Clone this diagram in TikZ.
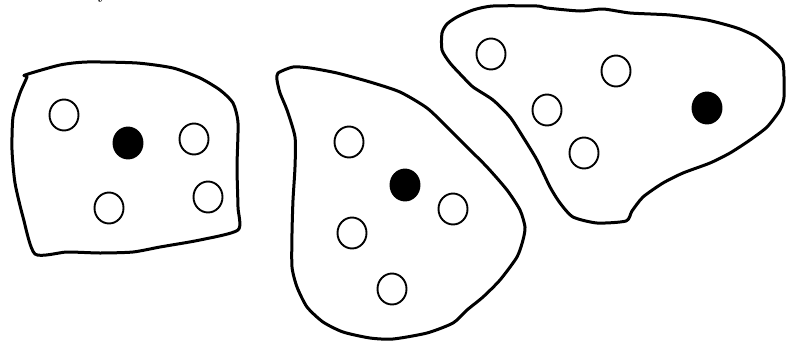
\documentclass[tikz,border=0pt]{standalone}
\usetikzlibrary{shapes.geometric}
\begin{document}
\begin{tikzpicture}[x=1pt,y=-1pt,
  blob/.style={line width=3pt,line join=round},
  opencirc/.style={ellipse,draw,line width=1.9pt,minimum width=29pt,minimum height=31pt,inner sep=0pt,fill=white},
  fullcirc/.style={ellipse,draw,line width=1.9pt,minimum width=29pt,minimum height=31pt,inner sep=0pt,fill=black}]
\useasboundingbox (0,0) rectangle (786,343);
\begin{scope}
\clip (0,0) rectangle (786,343);
\node[anchor=base west,inner sep=0pt,font=\Large\bfseries] (frag) at (98,-1) {y};
\end{scope}
% left blob
\draw[blob] plot[smooth cycle,tension=0.4] coordinates {
(25,75) (60,65) (87,62) (137,63) (173,68) (200,78) (220,90) (233,103) (238,123) (237,167) (238,207) (238,230)
(200,240) (160,247) (133,252) (100,253) (67,252) (35,254)
(23,217) (15,183) (12,150) (13,117) (20,93) (27,77)};
% middle blob
\draw[blob] plot[smooth cycle,tension=0.4] coordinates {
(278,73) (293,67) (310,68) (337,73) (370,82) (400,92) (427,108) (447,127) (467,147) (487,167) (507,190) (520,210) (525,227) (523,240) (517,257) (500,280) (483,297) (467,310) (453,323) (427,333) (393,339) (370,338) (343,332) (323,322) (307,307) (297,287) (292,267) (292,233) (293,200) (295,167) (295,137) (287,110) (280,93) (277,80)};
% right blob
\draw[blob] plot[smooth cycle,tension=0.4] coordinates {
(442,33) (447,24) (457,17) (473,10) (493,6) (537,6) (547,8) (580,11) (603,9) (630,13) (670,15) (707,20) (737,28) (757,37) (773,50) (783,63) (784,97) (780,110) (767,127) (750,140) (730,153) (710,163) (683,173) (663,183) (643,197) (632,211) (626,221) (597,223) (573,217) (560,203) (550,187) (537,160) (523,137) (510,117) (493,100) (473,87) (463,77) (450,63) (442,50)};
% left blob points
\node[opencirc] (a1) at (64,115) {};
\node[fullcirc] (a2) at (128,143) {};
\node[opencirc] (a3) at (194,139) {};
\node[opencirc] (a4) at (109,208) {};
\node[opencirc] (a5) at (208,197) {};
% middle blob points
\node[opencirc] (b1) at (349,142) {};
\node[fullcirc] (b2) at (405,185) {};
\node[opencirc] (b3) at (453,209) {};
\node[opencirc] (b4) at (352,233) {};
\node[opencirc] (b5) at (392,289) {};
% right blob points
\node[opencirc] (c1) at (491,54) {};
\node[opencirc] (c2) at (616,71) {};
\node[opencirc] (c3) at (547,110) {};
\node[opencirc] (c4) at (584,153) {};
\node[fullcirc] (c5) at (707,108) {};
\end{tikzpicture}
\end{document}
